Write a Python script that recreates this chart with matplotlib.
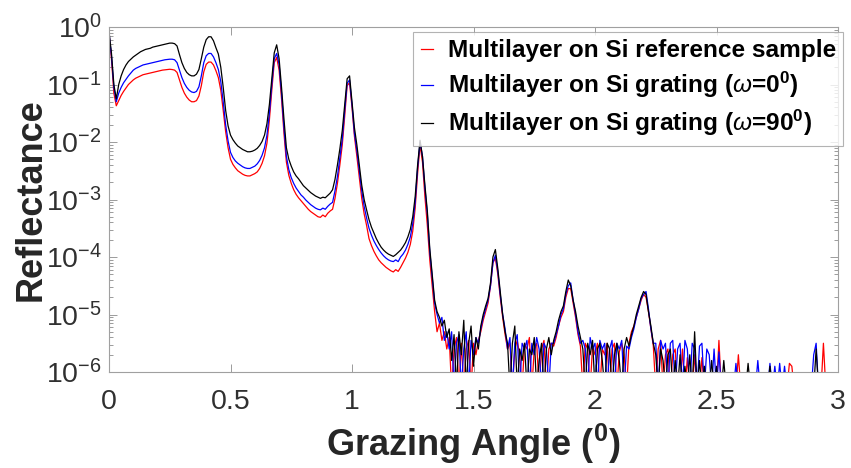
import numpy as np
import matplotlib
matplotlib.use('Agg')
import matplotlib.pyplot as plt
from matplotlib.ticker import LogLocator, NullFormatter, FuncFormatter, MultipleLocator

plt.rcParams['font.family'] = ['Liberation Sans', 'DejaVu Sans']
plt.rcParams['mathtext.fontset'] = 'custom'
plt.rcParams['mathtext.rm'] = 'Liberation Sans'
plt.rcParams['mathtext.it'] = 'Liberation Sans:italic'
plt.rcParams['mathtext.bf'] = 'Liberation Sans:bold'

# grazing angle grid (deg), 0.01 step
angle = np.linspace(0, 3, 301)

# log10(reflectance), one value per 0.01 deg
ref_log = [
    -0.12, -0.55, -1.15, -1.37, -1.28, -1.19, -1.12, -1.06, -1.00, -0.96,
    -0.92, -0.89, -0.87, -0.85, -0.83, -0.82, -0.81, -0.80, -0.79, -0.78,
    -0.77, -0.76, -0.75, -0.745, -0.74, -0.735, -0.74, -0.75, -0.79, -0.92,
    -1.05, -1.15, -1.22, -1.27, -1.30, -1.30, -1.28, -1.20, -1.02, -0.78,
    -0.65, -0.61, -0.61, -0.66, -0.76, -0.88, -1.10, -1.45, -1.82, -2.10,
    -2.30, -2.39, -2.45, -2.50, -2.53, -2.56, -2.58, -2.59, -2.59, -2.57,
    -2.55, -2.52, -2.46, -2.37, -2.24, -2.02, -1.62, -1.10, -0.62, -0.53,
    -0.75, -1.25, -1.85, -2.35, -2.58, -2.72, -2.83, -2.91, -2.97, -3.02,
    -3.07, -3.12, -3.17, -3.21, -3.24, -3.27, -3.30, -3.31, -3.27, -3.30,
    -3.24, -3.20, -3.17, -2.98, -2.72, -2.40, -2.05, -1.55, -1.02, -0.97,
    -1.40, -1.90, -2.25, -2.62, -2.98, -3.25, -3.45, -3.68, -3.80, -3.90,
    -3.98, -4.05, -4.10, -4.14, -4.18, -4.21, -4.24, -4.26, -4.22, -4.25,
    -4.18, -4.10, -4.02, -3.92, -3.78, -3.55, -3.15, -2.55, -2.05, -2.35,
    -2.95, -3.45, -4.05, -4.50, -4.95, -5.30, -5.15, -5.45, -5.30, -5.60,
    -5.4, -6.3, -5.6, -5.4, -6.3, -5.5, -6.3, -5.6, -5.45, -6.3,
    -5.5, -5.7, -5.45, -5.3, -5.1, -4.95, -4.8, -4.5, -4.1, -4.02,
    -4.3, -4.7, -5.05, -5.35, -5.6, -5.5, -6.3, -5.6, -5.45, -5.7,
    -6.3, -5.5, -5.6, -5.4, -6.3, -5.6, -5.5, -6.3, -5.6, -5.45,
    -6.3, -5.6, -5.5, -5.55, -5.4, -5.2, -5.05, -4.95, -4.7, -4.55,
    -4.55, -4.8, -5.05, -5.35, -5.55, -6.3, -5.5, -5.6, -6.3, -5.55,
    -5.7, -5.5, -6.3, -5.6, -5.7, -5.5, -6.3, -5.6, -5.5, -6.3,
    -5.65, -5.5, -5.7, -6.3, -5.5, -5.3, -5.2, -5.05, -4.9, -4.75,
    -4.65, -4.7, -4.95, -5.25, -5.55, -6.3, -5.6, -5.45, -6.3, -5.7,
    -5.6, -6.3, -5.7, -5.6, -6.3, -6.3, -5.6, -6.3, -5.75, -6.3,
    -6.3, -5.7, -6.3, -6.3, -5.75, -6.3, -6.3, -6.3, -6.3, -6.3,
    -6.3, -5.45, -6.3, -6.3, -6.3, -6.3, -6.3, -6.3, -6.3, -5.7,
    -6.3, -6.3, -6.3, -6.3, -6.3, -6.3, -6.3, -6.3, -6.3, -6.3,
    -6.3, -6.3, -6.3, -6.3, -6.3, -6.3, -6.3, -6.3, -6.3, -6.3,
    -5.85, -5.9, -6.3, -6.3, -6.3, -6.3, -6.3, -6.3, -6.3, -6.3,
    -6.3, -6.3, -6.3, -6.3, -5.5, -6.3, -6.3, -6.3, -6.3, -6.3,
    -6.3,
]

grating0_log = [
    -0.10, -0.50, -1.05, -1.30, -1.15, -1.05, -0.97, -0.91, -0.85, -0.80,
    -0.75, -0.72, -0.70, -0.68, -0.66, -0.65, -0.64, -0.63, -0.62, -0.61,
    -0.60, -0.59, -0.58, -0.57, -0.565, -0.56, -0.56, -0.57, -0.62, -0.75,
    -0.88, -0.98, -1.05, -1.10, -1.13, -1.14, -1.12, -1.04, -0.85, -0.62,
    -0.50, -0.46, -0.46, -0.52, -0.62, -0.74, -0.95, -1.30, -1.70, -1.98,
    -2.18, -2.27, -2.33, -2.37, -2.40, -2.43, -2.45, -2.46, -2.46, -2.44,
    -2.42, -2.38, -2.32, -2.23, -2.10, -1.88, -1.50, -1.00, -0.55, -0.46,
    -0.65, -1.15, -1.75, -2.25, -2.48, -2.62, -2.72, -2.80, -2.86, -2.92,
    -2.96, -3.01, -3.05, -3.09, -3.12, -3.15, -3.17, -3.18, -3.15, -3.17,
    -3.12, -3.08, -3.05, -2.85, -2.60, -2.28, -1.95, -1.45, -0.98, -0.92,
    -1.35, -1.85, -2.15, -2.50, -2.85, -3.12, -3.32, -3.50, -3.62, -3.72,
    -3.80, -3.87, -3.93, -3.98, -4.02, -4.05, -4.07, -4.08, -4.05, -4.08,
    -4.00, -3.95, -3.88, -3.78, -3.65, -3.42, -3.05, -2.45, -2.00, -2.25,
    -2.80, -3.25, -3.90, -4.35, -4.80, -5.00, -5.15, -5.05, -5.45, -5.30,
    -5.6, -5.3, -6.3, -5.5, -5.35, -6.3, -5.6, -5.3, -6.3, -5.45,
    -5.7, -5.4, -5.5, -5.25, -5.05, -4.9, -4.75, -4.5, -4.1, -3.97,
    -4.25, -4.65, -5.0, -5.25, -5.6, -5.4, -6.3, -5.5, -5.35, -6.3,
    -5.5, -5.6, -5.45, -6.3, -5.5, -5.7, -5.4, -5.6, -6.3, -5.5,
    -5.6, -6.3, -5.5, -5.5, -5.35, -5.2, -5.0, -4.9, -4.65, -4.5,
    -4.45, -4.75, -5.0, -5.3, -5.5, -5.45, -5.6, -6.3, -5.4, -5.6,
    -5.5, -6.3, -5.45, -5.6, -5.5, -6.3, -5.6, -5.45, -6.3, -5.5,
    -5.6, -5.45, -6.3, -5.55, -5.6, -5.4, -5.25, -5.05, -4.9, -4.72,
    -4.65, -4.6, -4.9, -5.25, -5.5, -5.5, -6.3, -5.45, -5.6, -5.5,
    -6.3, -5.5, -5.45, -6.3, -5.6, -5.5, -6.3, -5.45, -5.6, -6.3,
    -5.5, -5.6, -6.3, -5.55, -5.5, -6.3, -5.6, -5.7, -6.3, -5.6,
    -6.3, -5.65, -6.3, -6.3, -6.3, -6.3, -6.3, -6.3, -5.85, -6.3,
    -6.3, -6.3, -6.3, -6.3, -6.3, -6.3, -6.3, -5.8, -6.3, -6.3,
    -6.3, -6.3, -5.85, -6.3, -5.9, -6.3, -5.85, -6.3, -5.9, -6.3,
    -6.3, -6.3, -6.3, -6.3, -6.3, -6.3, -6.3, -6.3, -6.3, -6.3,
    -5.7, -5.5, -6.3, -6.3, -6.3, -6.3, -6.3, -6.3, -6.3, -6.3,
    -6.3,
]

grating90_log = [
    -0.08, -0.45, -1.00, -1.25, -1.00, -0.85, -0.74, -0.66, -0.60, -0.56,
    -0.52, -0.49, -0.46, -0.43, -0.41, -0.39, -0.38, -0.37, -0.35, -0.34,
    -0.33, -0.32, -0.31, -0.30, -0.29, -0.28, -0.28, -0.29, -0.33, -0.48,
    -0.62, -0.72, -0.79, -0.83, -0.85, -0.85, -0.82, -0.74, -0.55, -0.35,
    -0.22, -0.17, -0.17, -0.24, -0.36, -0.47, -0.70, -1.05, -1.45, -1.72,
    -1.88, -1.96, -2.02, -2.07, -2.10, -2.13, -2.15, -2.17, -2.17, -2.16,
    -2.14, -2.11, -2.06, -1.99, -1.88, -1.68, -1.35, -0.90, -0.45, -0.31,
    -0.55, -1.05, -1.60, -2.10, -2.30, -2.42, -2.52, -2.59, -2.64, -2.70,
    -2.76, -2.80, -2.84, -2.88, -2.91, -2.94, -2.96, -2.98, -2.96, -2.97,
    -2.93, -2.89, -2.83, -2.65, -2.40, -2.12, -1.80, -1.35, -0.90, -0.85,
    -1.30, -1.75, -2.05, -2.40, -2.75, -3.00, -3.18, -3.35, -3.48, -3.58,
    -3.68, -3.76, -3.83, -3.88, -3.92, -3.95, -3.97, -3.99, -3.96, -3.92,
    -3.88, -3.82, -3.75, -3.65, -3.52, -3.30, -2.95, -2.40, -1.97, -2.25,
    -2.75, -3.20, -3.85, -4.30, -4.75, -4.95, -5.05, -5.20, -5.10, -5.40,
    -5.25, -5.8, -5.35, -6.3, -5.3, -5.7, -5.1, -6.3, -5.5, -5.2,
    -5.9, -5.4, -5.6, -5.2, -5.0, -4.85, -4.72, -4.45, -4.0, -3.87,
    -4.2, -4.6, -5.0, -5.3, -5.5, -6.3, -5.5, -5.2, -6.3, -5.6,
    -5.8, -5.5, -6.3, -5.6, -5.7, -5.4, -6.3, -5.8, -5.5, -6.3,
    -5.6, -5.4, -5.7, -5.45, -5.3, -5.1, -4.95, -4.85, -4.6, -4.4,
    -4.5, -4.75, -4.95, -5.2, -5.4, -5.6, -6.3, -5.5, -5.7, -5.45,
    -6.3, -5.6, -5.5, -5.8, -6.3, -5.5, -5.6, -6.3, -5.7, -5.5,
    -5.8, -6.3, -5.6, -5.4, -5.55, -5.35, -5.2, -5.0, -4.85, -4.7,
    -4.6, -4.65, -4.95, -5.2, -5.5, -5.7, -6.3, -5.6, -5.8, -6.3,
    -5.7, -5.6, -6.3, -5.8, -6.3, -5.7, -6.3, -5.9, -6.3, -5.7,
    -6.3, -5.3, -6.3, -5.8, -6.3, -5.9, -6.3, -6.3, -5.8, -6.3,
    -5.9, -6.3, -6.3, -5.8, -6.3, -6.3, -6.3, -6.3, -6.3, -6.3,
    -6.3, -6.3, -6.3, -5.85, -6.3, -6.3, -6.3, -6.3, -6.3, -6.3,
    -6.3, -6.3, -5.9, -6.3, -6.3, -6.3, -6.3, -6.3, -6.3, -6.3,
    -6.3, -6.3, -6.3, -6.3, -6.3, -6.3, -6.3, -6.3, -6.3, -6.3,
    -6.3, -5.6, -6.3, -6.3, -6.3, -6.3, -6.3, -6.3, -6.3, -6.3,
    -6.3,
]

labels = ['Multilayer on Si reference sample',
          r'Multilayer on Si grating ($\omega$=0${}^{\mathbf{0}}$)',
          r'Multilayer on Si grating ($\omega$=90${}^{\mathbf{0}}$)']
colors = ['#ff0000', '#0000ff', '#000000']

fig = plt.figure(figsize=(8.51, 4.68), dpi=100)
ax = fig.add_axes([109 / 851, 1 - 372 / 468, 729 / 851, 345 / 468])

for vals, lab, col in zip([ref_log, grating0_log, grating90_log], labels, colors):
    ax.plot(angle, 10 ** np.array(vals), color=col, linewidth=0.9, label=lab)

ax.set_yscale('log')
ax.set_xlim(0, 3)
ax.set_ylim(1e-6, 1)

ax.xaxis.set_major_locator(MultipleLocator(0.5))
ax.xaxis.set_major_formatter(FuncFormatter(lambda v, p: '%g' % v))
ax.yaxis.set_major_locator(LogLocator(base=10, numticks=10))
ax.yaxis.set_minor_locator(LogLocator(base=10, subs=np.arange(2, 10), numticks=20))
ax.yaxis.set_minor_formatter(NullFormatter())
ax.yaxis.set_major_formatter(FuncFormatter(
    lambda v, p: r'$\mathregular{10^{%d}}$' % round(np.log10(v))))

ax.tick_params(which='both', direction='in', top=True, right=True,
               colors='#8c8c8c', labelcolor='#303030', width=0.6)
ax.tick_params(which='major', length=6, labelsize=20.5)
ax.tick_params(which='minor', length=3)
ax.tick_params(axis='x', pad=12)
ax.tick_params(axis='y', pad=5)
for s in ax.spines.values():
    s.set_color('#a0a0a0')
    s.set_linewidth(0.8)

ax.set_xlabel(r'Grazing Angle (${}^{\mathbf{0}}$)', fontsize=26,
              fontweight='bold', color='#262626', labelpad=5)
ax.set_ylabel('Reflectance', fontsize=26, fontweight='bold',
              color='#262626', labelpad=-2)

leg = ax.legend(loc='upper right', bbox_to_anchor=(1.007, 0.986),
                prop={'size': 17.6, 'weight': 'bold'}, handlelength=0.5,
                handletextpad=0.6, labelspacing=0.32, borderpad=0.3,
                borderaxespad=0, frameon=True, fancybox=False)
leg.get_frame().set_edgecolor('#a0a0a0')
leg.get_frame().set_linewidth(0.8)

fig.savefig('out.png', dpi=100)
